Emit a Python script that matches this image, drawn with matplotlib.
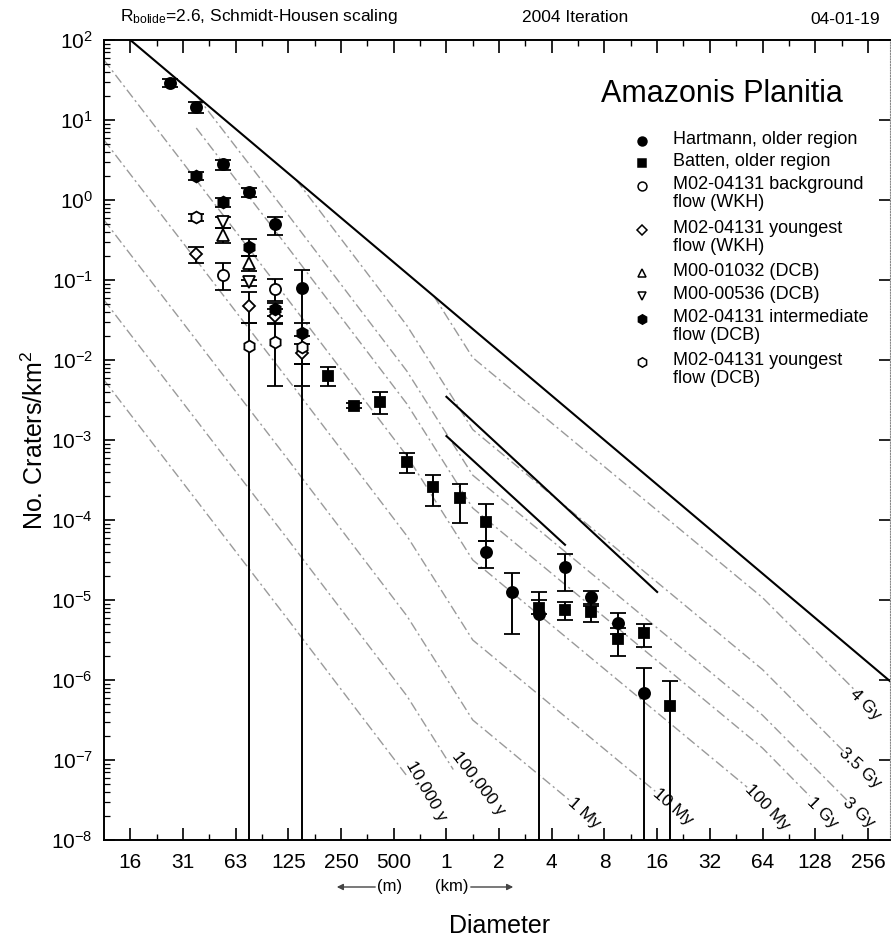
import numpy as np
import matplotlib
matplotlib.use('Agg')
import matplotlib.pyplot as plt
from matplotlib.ticker import FixedLocator, FixedFormatter, LogLocator, NullFormatter

plt.rcParams['font.family'] = ['Liberation Sans', 'DejaVu Sans']
plt.rcParams['mathtext.fontset'] = 'custom'
plt.rcParams['mathtext.rm'] = 'Liberation Sans'
plt.rcParams['mathtext.it'] = 'Liberation Sans:italic'
plt.rcParams['mathtext.bf'] = 'Liberation Sans:bold'
plt.rcParams['mathtext.default'] = 'regular'

W, H = 891, 943

# diameter bins (km) and their labels
tick_d = [0.015625, 0.03125, 0.0625, 0.125, 0.25, 0.5, 1, 2, 4, 8, 16, 32, 64, 128, 256]
tick_lab = ['16', '31', '63', '125', '250', '500', '1', '2', '4', '8', '16', '32', '64', '128', '256']

# crater counts, N per km^2 in sqrt(2) bins, with error bar limits (0 = down to zero)
hart_d = [0.0263, 0.0372, 0.0526, 0.0743, 0.105, 0.149, 1.68, 2.38, 3.36, 4.76, 6.73, 9.51, 13.45]
hart_n = [28.8, 14.4, 2.79, 1.25, 0.497, 0.0787, 3.95e-5, 1.27e-5, 6.6e-6, 2.61e-5, 1.08e-5, 5.1e-6, 6.9e-7]
hart_lo = [25.5, 12.1, 2.37, 1.1, 0.36, 0, 2.5e-5, 3.8e-6, 0, 1.3e-5, 8.5e-6, 3.8e-6, 0]
hart_hi = [32.5, 16.9, 3.16, 1.42, 0.62, 0.133, 5.5e-5, 2.15e-5, 1.27e-5, 3.8e-5, 1.3e-5, 6.8e-6, 1.4e-6]

batten_d = [0.210, 0.297, 0.420, 0.595, 0.841, 1.19, 1.68, 3.36, 4.76, 6.73, 9.51, 13.45, 19.0]
batten_n = [6.3e-3, 2.68e-3, 3.0e-3, 5.26e-4, 2.56e-4, 1.87e-4, 9.5e-5, 7.9e-6, 7.6e-6, 7.1e-6, 3.3e-6, 3.9e-6, 4.7e-7]
batten_lo = [4.7e-3, 2.5e-3, 2.1e-3, 3.9e-4, 1.5e-4, 9.3e-5, 5.5e-5, 6.6e-6, 5.7e-6, 5.3e-6, 2.0e-6, 2.6e-6, 0]
batten_hi = [8.1e-3, 2.9e-3, 4.0e-3, 6.9e-4, 3.65e-4, 2.8e-4, 1.6e-4, 1.0e-5, 9.5e-6, 8.8e-6, 4.5e-6, 5.0e-6, 9.8e-7]

bg_d = [0.0526, 0.105]
bg_n = [0.115, 0.0764]
bg_lo = [0.075, 0.055]
bg_hi = [0.162, 0.104]

ywkh_d = [0.0372, 0.0743, 0.105, 0.149]
ywkh_n = [0.211, 0.047, 0.0355, 0.0121]
ywkh_lo = [0.162, 0.0289, 0.028, 0.009]
ywkh_hi = [0.26, 0.0698, 0.043, 0.016]

m1032_d = [0.0526, 0.0743]
m1032_n = [0.365, 0.162]
m1032_lo = [0.29, 0.13]
m1032_hi = [0.45, 0.2]

m0536_d = [0.0526, 0.0743]
m0536_n = [0.536, 0.095]
m0536_lo = [0.45, 0.083]
m0536_hi = [0.62, 0.10]

inter_d = [0.0372, 0.0526, 0.0743, 0.105, 0.149]
inter_n = [2.01, 0.935, 0.26, 0.043, 0.0216]
inter_lo = [1.8, 0.82, 0.2, 0.035, 0.0047]
inter_hi = [2.25, 1.05, 0.33, 0.052, 0.029]

ydcb_d = [0.0372, 0.0743, 0.105, 0.149]
ydcb_n = [0.608, 0.015, 0.0169, 0.0145]
ydcb_lo = [0.55, 0, 0.0047, 0.009]
ydcb_hi = [0.67, 0.0289, 0.029, 0.02]

legend_labels = ['Hartmann, older region', 'Batten, older region',
                 'M02-04131 background\nflow (WKH)', 'M02-04131 youngest\nflow (WKH)',
                 'M00-01032 (DCB)', 'M00-00536 (DCB)',
                 'M02-04131 intermediate\nflow (DCB)', 'M02-04131 youngest\nflow (DCB)']

# isochrons (vertices)
iso_labels = ['10,000 y', '100,000 y', '1 My', '10 My', '100 My', '1 Gy', '3 Gy', '3.5 Gy', '4 Gy']
iso_d = [[0.01105, 0.125, 0.595],
         [0.01105, 0.125, 0.595, 1.094],
         [0.01105, 0.125, 0.595, 1.414, 5.10],
         [0.01105, 0.125, 0.595, 1.414, 15.6],
         [0.01105, 0.125, 0.595, 1.414, 52.3],
         [0.0372, 0.125, 0.595, 1.414, 64, 119],
         [0.0374, 0.125, 0.595, 1.414, 64, 194],
         [0.1387, 0.595, 1.414, 64, 190],
         [0.847, 1.414, 64, 221]]
iso_n = [[5.62e-3, 5.62e-6, 6.31e-8],
         [5.62e-2, 5.62e-5, 6.31e-7, 7.6e-8],
         [0.562, 5.62e-4, 6.31e-6, 3.16e-7, 3.09e-8],
         [5.62, 5.62e-3, 6.31e-5, 3.16e-6, 4.07e-8],
         [56.2, 5.62e-2, 6.31e-4, 3.16e-5, 4.57e-8],
         [7.94, 0.251, 2.82e-3, 1.41e-4, 1.41e-7, 3.55e-8],
         [19.95, 0.646, 7.24e-3, 3.63e-4, 3.63e-7, 3.16e-8],
         [1.78, 2.69e-2, 1.35e-3, 1.35e-6, 1.23e-7],
         [6.31e-2, 1.07e-2, 1.07e-5, 7.08e-7]]
# label rotation (deg) and nudge (px) for each isochron label
iso_angle = [60, 52, 42, 41, 46, 45, 42, 43, 45]
iso_nudge = [(3, 14), (2, 16), (0, 0), (0, 0), (0, 0), (0, -4), (-2, 0), (-4, 2), (-4, 0)]

# saturation equilibrium and the two short solid lines
sat_d = [0.015625, 350]
sat_n = [100, 9.3e-7]
short_d = [[1.0, 16.0], [1.0, 4.76]]
short_n = [[3.47e-3, 1.26e-5], [1.12e-3, 4.9e-5]]


def fx(x):
    return x / W


def fy(y):
    return 1 - y / H


fig = plt.figure(figsize=(W / 100, H / 100), dpi=100)
ax = fig.add_axes([fx(104), fy(840), (890 - 104) / W, (840 - 40) / H])
ax.set_xscale('log')
ax.set_yscale('log')
ax.set_xlim(0.01105, 342.5)
ax.set_ylim(1e-8, 1e2)

iso_color = '#9a9a9a'
for d, n, lab, ang, nud in zip(iso_d, iso_n, iso_labels, iso_angle, iso_nudge):
    ax.plot(d, n, color=iso_color, lw=1.0, dashes=(7, 2.5, 1.5, 2.5), zorder=1)
    ax.annotate(lab, xy=(d[-1], n[-1]), xytext=nud, textcoords='offset pixels',
                rotation=-ang, rotation_mode='anchor', ha='left', va='center',
                fontsize=12.5, annotation_clip=False, clip_on=True, zorder=2)

ax.plot(sat_d, sat_n, color='black', lw=1.5, zorder=2)
for d, n in zip(short_d, short_n):
    ax.plot(d, n, color='black', lw=1.5, zorder=2)

series = [
    (hart_d, hart_n, hart_lo, hart_hi, 'o', 'black', 8.0),
    (batten_d, batten_n, batten_lo, batten_hi, 's', 'black', 7.0),
    (bg_d, bg_n, bg_lo, bg_hi, 'o', 'white', 8.0),
    (ywkh_d, ywkh_n, ywkh_lo, ywkh_hi, 'D', 'white', 6.5),
    (m1032_d, m1032_n, m1032_lo, m1032_hi, '^', 'white', 8.0),
    (m0536_d, m0536_n, m0536_lo, m0536_hi, 'v', 'white', 8.0),
    (inter_d, inter_n, inter_lo, inter_hi, 'h', 'black', 8.5),
    (ydcb_d, ydcb_n, ydcb_lo, ydcb_hi, 'h', 'white', 8.5),
]
for d, n, lo, hi, mk, fc, ms in series:
    n = np.array(n)
    lo = np.where(np.array(lo) > 0, lo, 1e-14)
    hi = np.array(hi)
    ax.errorbar(d, n, yerr=[n - lo, hi - n], fmt=mk, mfc=fc, mec='black',
                mew=1.3, ms=ms, ecolor='black', elinewidth=1.4,
                capsize=5.5, capthick=1.3, zorder=3)

# axes styling
for s in ['left', 'bottom', 'top']:
    ax.spines[s].set_linewidth(1.4)
ax.spines['right'].set_linestyle((0, (1, 1.5)))
ax.spines['right'].set_color('#888888')
ax.spines['right'].set_linewidth(0.8)

ax.xaxis.set_major_locator(FixedLocator(tick_d))
ax.xaxis.set_major_formatter(FixedFormatter(tick_lab))
ax.xaxis.set_minor_locator(FixedLocator(np.array(tick_d) * np.sqrt(2)))
ax.xaxis.set_minor_formatter(NullFormatter())
ax.yaxis.set_major_locator(LogLocator(base=10, numticks=20))
ax.yaxis.set_minor_locator(LogLocator(base=10, subs=np.arange(2, 10), numticks=20))
ax.yaxis.set_minor_formatter(NullFormatter())

ax.tick_params(axis='x', which='major', direction='in', length=9, width=1.2,
               top=True, labelsize=15, pad=9)
ax.tick_params(axis='x', which='minor', direction='in', length=4, width=1.0, top=True)
ax.tick_params(axis='y', which='major', direction='in', length=8, width=1.2,
               right=True, labelsize=15, pad=8)
ax.tick_params(axis='y', which='minor', direction='in', length=4, width=0.9, right=False)

# header texts
fig.text(fx(120), fy(17), r'R$_{\mathregular{bolide}}$=2.6, Schmidt-Housen scaling',
         fontsize=12.5, ha='left', va='center')
fig.text(fx(575), fy(17), '2004 Iteration', fontsize=12.5, ha='center', va='center')
fig.text(fx(880), fy(19), '04-01-19', fontsize=12.5, ha='right', va='center')
fig.text(fx(722), fy(94), 'Amazonis Planitia', fontsize=22, ha='center', va='center')

# legend, placed by hand
leg_rows = [141, 163, 186, 230, 273, 296, 319, 362]
for (d, n, lo, hi, mk, fc, ms), lab, yy in zip(series, legend_labels, leg_rows):
    fig.add_artist(plt.Line2D([fx(642)], [fy(yy)], marker=mk, mfc=fc, mec='black',
                              mew=1.1, ms=ms * 0.8, transform=fig.transFigure))
    fig.text(fx(673), fy(yy - 10), lab, fontsize=13, ha='left', va='top', linespacing=1.05)

# axis titles
fig.text(fx(35), fy(440), 'No. Craters/km$^2$', fontsize=18, rotation=90,
         ha='center', va='center')
fig.text(fx(500), fy(926), 'Diameter', fontsize=18, ha='center', va='center')
fig.text(fx(390), fy(886), '(m)', fontsize=12, ha='center', va='center')
fig.text(fx(452), fy(886), '(km)', fontsize=12, ha='center', va='center')
ax.annotate('', xy=(334, H - 887), xytext=(378, H - 887), xycoords='figure pixels',
            arrowprops=dict(arrowstyle='-|>', color='#444444', lw=1.0, mutation_scale=9))
ax.annotate('', xy=(516, H - 887), xytext=(468, H - 887), xycoords='figure pixels',
            arrowprops=dict(arrowstyle='-|>', color='#444444', lw=1.0, mutation_scale=9))

fig.savefig('out.png', dpi=100)
